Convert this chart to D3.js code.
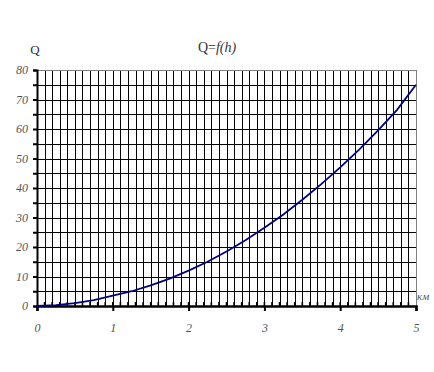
<!DOCTYPE html>
<html><head><meta charset="utf-8">
<script src="https://cdn.jsdelivr.net/npm/d3@7"></script>
<style>body{margin:0;background:#fff}svg{display:block}</style>
</head><body>
<svg id="c" width="434" height="372"></svg>
<script>
const hValues = [0,0.25,0.5,0.75,1,1.25,1.5,1.75,2,2.25,2.5,2.75,3,3.25,3.5,3.75,4,4.25,4.5,4.75,5];
const qValues = [0,0.3,1.0,2.0,3.5,5.0,7.0,9.3,12.0,15.0,18.5,22.3,26.5,31.0,36.0,41.3,47.0,53.0,59.5,66.5,75.0];
const xTickLabels = [0,1,2,3,4,5];
const yTickLabels = [0,10,20,30,40,50,60,70,80];
const titleText = ["Q=","f(h)"];
const yAxisTitle = "Q";
const xAxisUnit = "км";
const SERIF = '"Liberation Serif"';

const svg = d3.select("#c");
const L=37, R=416, T=70, B=306;
const x = d3.scaleLinear().domain([0,5]).range([L,R]);
const y = d3.scaleLinear().domain([0,80]).range([B,T]);

// grid
const vGrid = d3.range(1,50).map(i=>i/10);
svg.append("g").selectAll("line").data(vGrid).join("line")
  .attr("x1",d=>Math.round(x(d))+0.5).attr("x2",d=>Math.round(x(d))+0.5)
  .attr("y1",T).attr("y2",B).attr("stroke","#000").attr("stroke-width",1);
const hGrid = d3.range(5,80,5);
svg.append("g").selectAll("line").data(hGrid).join("line")
  .attr("y1",d=>Math.round(y(d))+0.5).attr("y2",d=>Math.round(y(d))+0.5)
  .attr("x1",L).attr("x2",R).attr("stroke","#000").attr("stroke-width",1);
// top and right border
svg.append("line").attr("x1",L).attr("x2",R+0.5).attr("y1",T+0.5).attr("y2",T+0.5).attr("stroke","#808080");
svg.append("line").attr("x1",R+0.5).attr("x2",R+0.5).attr("y1",T).attr("y2",B).attr("stroke","#808080");

// Y axis
const yAxis = d3.axisLeft(y).tickValues(d3.range(0,81,5)).tickSize(4).tickFormat(d=> d%10===0? d : "");
const gy = svg.append("g").attr("transform",`translate(${L},0)`).call(yAxis);
gy.select(".domain").attr("stroke","#000").attr("stroke-width",2);
gy.selectAll(".tick line").attr("stroke","#000").attr("stroke-width",2);
gy.selectAll(".tick text").attr("x",-9).style("font-family",SERIF)
  .style("font-style","italic").style("font-size","12px").attr("fill","#555");

// X axis minor ticks (up)
svg.append("g").selectAll("line").data(d3.range(1,50).map(i=>i/10)).join("line")
  .attr("x1",d=>x(d)).attr("x2",d=>x(d)).attr("y1",B).attr("y2",B-4)
  .attr("stroke","#000").attr("stroke-width",1.6);
// X axis
const xAxis = d3.axisBottom(x).tickValues(xTickLabels).tickSize(5).tickFormat(d=>d);
const gx = svg.append("g").attr("transform",`translate(0,${B})`).call(xAxis);
gx.select(".domain").attr("stroke","#000").attr("stroke-width",2.5);
gx.selectAll(".tick line").attr("stroke","#000").attr("stroke-width",2);
gx.selectAll(".tick text").attr("y",17).style("font-family",SERIF)
  .style("font-style","italic").style("font-size","12px").attr("fill","#555");

// curve
const pts = hValues.map((h,i)=>[h,qValues[i]]);
svg.append("path").datum(pts)
  .attr("d",d3.line().x(d=>x(d[0])).y(d=>y(d[1])))
  .attr("fill","none").attr("stroke","#000080").attr("stroke-width",1.8);

// title
const t = svg.append("text").attr("x",217).attr("y",52).attr("text-anchor","middle").style("font-family",SERIF)
  .style("font-size","14px").attr("fill","#333");
t.append("tspan").text(titleText[0]);
t.append("tspan").style("font-style","italic").attr("fill","#334").text(titleText[1]);

svg.append("text").attr("x",35).attr("y",54).attr("text-anchor","middle").style("font-family",SERIF)
  .style("font-size","13px").attr("fill","#333").text(yAxisTitle);
svg.append("text").attr("x",417).attr("y",300).style("font-family",SERIF)
  .style("font-style","italic").style("font-size","11px").attr("fill","#555").text(xAxisUnit);
</script>
</body></html>
